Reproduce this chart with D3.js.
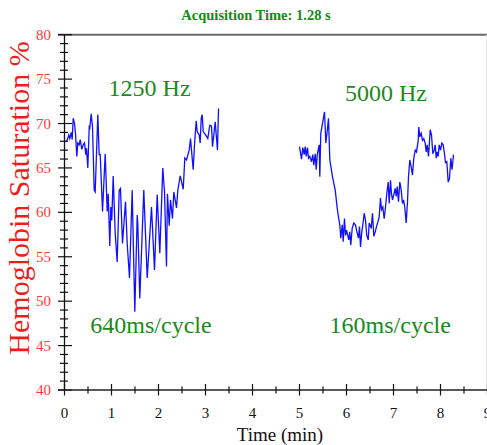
<!DOCTYPE html>
<html><head><meta charset="utf-8">
<script src="https://cdn.jsdelivr.net/npm/d3@7"></script>
<style>body{margin:0;background:#fff;} svg{display:block;}</style>
</head><body>
<script>
const titleText = "Acquisition Time: 1.28 s";
const xLabel = "Time (min)";
const yLabel = "Hemoglobin Saturation %";
const xTicks = [0,1,2,3,4,5,6,7,8,9];
const yTicks = [40,45,50,55,60,65,70,75,80];
const annotations = [
  {text:"1250 Hz", t:1.81, v:73.1},
  {text:"5000 Hz", t:6.84, v:72.5},
  {text:"640ms/cycle", t:1.84, v:46.4},
  {text:"160ms/cycle", t:6.93, v:46.4}
];
const time1250 = [0.015,0.057,0.091,0.113,0.143,0.164,0.185,0.213,0.234,0.262,0.283,0.313,0.334,0.368,0.398,0.426,0.453,0.468,0.496,0.526,0.538,0.568,0.596,0.632,0.653,0.709,0.738,0.760,0.809,0.866,0.909,0.930,0.964,0.985,1.006,1.036,1.079,1.121,1.164,1.191,1.234,1.298,1.334,1.383,1.440,1.496,1.547,1.560,1.602,1.687,1.760,1.851,1.915,1.972,2.028,2.091,2.128,2.170,2.191,2.228,2.255,2.298,2.326,2.383,2.411,2.462,2.526,2.560,2.596,2.653,2.681,2.738,2.766,2.802,2.823,2.866,2.887,2.909,2.930,2.951,3.006,3.049,3.091,3.128,3.149,3.177,3.206,3.255,3.277];
const sat1250 = [67.95,68.1,68.7,68.3,69.0,68.2,70.6,70.0,68.9,66.3,67.8,67.6,68.2,67.1,67.6,67.8,66.5,67.2,65.0,69.6,69.5,71.1,69.6,62.5,62.3,71.0,66.5,66.5,60.1,66.6,60.1,62.1,56.2,60.6,59.1,64.1,57.6,54.4,62.5,62.7,56.5,61.2,56.5,52.6,62.5,48.8,59.7,58.6,50.3,62.5,52.6,60.6,53.5,62.0,55.4,65.0,62.3,53.9,62.1,58.5,61.4,59.3,62.3,60.5,62.5,64.1,62.6,66.1,65.9,67.0,68.3,64.8,67.6,70.3,69.1,68.7,67.8,70.6,71.0,69.1,68.7,68.3,69.8,69.7,67.4,68.7,70.2,67.0,71.7];
const time5000 = [5.0,5.043,5.070,5.100,5.121,5.143,5.170,5.191,5.219,5.255,5.283,5.304,5.334,5.355,5.377,5.419,5.432,5.453,5.489,5.532,5.560,5.589,5.617,5.645,5.702,5.760,5.802,5.823,5.857,5.879,5.909,5.930,5.957,5.979,6.000,6.049,6.070,6.091,6.121,6.155,6.191,6.213,6.255,6.277,6.298,6.326,6.347,6.377,6.404,6.432,6.462,6.483,6.526,6.553,6.581,6.611,6.638,6.666,6.696,6.723,6.745,6.772,6.802,6.830,6.857,6.887,6.909,6.936,6.957,6.979,7.006,7.036,7.057,7.079,7.106,7.134,7.164,7.191,7.213,7.240,7.270,7.298,7.319,7.347,7.377,7.404,7.432,7.462,7.489,7.526,7.538,7.560,7.589,7.617,7.645,7.674,7.696,7.717,7.745,7.781,7.809,7.836,7.866,7.887,7.909,7.930,7.951,7.972,8.000,8.028,8.057,8.085,8.106,8.134,8.164,8.191,8.219,8.245,8.277];
const sat5000 = [67.4,66.0,67.3,66.5,67.4,66.3,67.3,66.1,66.3,65.7,66.5,65.3,66.6,64.8,66.5,67.6,64.0,68.9,70.0,71.3,67.8,69.1,70.6,65.9,64.0,62.5,60.5,59.7,58.6,57.1,58.6,56.7,59.3,57.4,58.0,56.9,57.8,56.3,58.2,58.8,58.6,58.0,57.1,58.4,56.1,57.8,58.6,59.9,59.1,57.4,56.9,58.8,58.2,59.9,57.3,57.8,58.4,58.9,59.5,61.6,60.3,60.6,59.3,60.6,62.1,63.4,61.0,63.6,62.1,61.4,62.0,62.7,61.8,62.9,61.2,63.4,62.5,61.0,61.4,60.6,58.8,61.2,64.0,65.9,65.1,64.2,66.1,67.0,66.8,68.1,69.6,68.5,68.9,68.1,68.3,67.8,66.8,67.6,66.3,69.3,68.7,66.6,67.0,67.6,66.1,66.8,66.3,67.6,67.0,67.8,67.6,66.6,65.6,65.7,63.4,63.8,66.1,64.8,66.5];

const W = 487, H = 445;
const x0 = 64.5, x1 = 487.5, yTop = 34.7, yBot = 390;
const svg = d3.select("body").append("svg").attr("width", W).attr("height", H);
const x = d3.scaleLinear().domain([0,9]).range([x0, x1]);
const y = d3.scaleLinear().domain([40,80]).range([yBot, yTop]);
const serif = "'Liberation Serif', 'DejaVu Serif', serif";

// title
svg.append("text").attr("x", 256).attr("y", 19.5).attr("text-anchor","middle")
  .attr("font-family", serif).attr("font-weight","bold").attr("font-size", 14.5)
  .attr("fill", "#138a13").text(titleText);

// top frame line
svg.append("line").attr("x1", 58).attr("x2", W).attr("y1", yTop).attr("y2", yTop)
  .attr("stroke", "#6a6a6a").attr("stroke-width", 2);
svg.append("line").attr("x1", 486.5).attr("x2", 486.5).attr("y1", yTop).attr("y2", yBot)
  .attr("stroke", "#e6e6e6").attr("stroke-width", 1);

// y axis ticks
const yMinor = d3.range(40, 81, 1);
svg.append("g").selectAll("line").data(yMinor).join("line")
  .attr("x1", d => d % 5 === 0 ? 58 : 60).attr("x2", d => d % 5 === 0 ? 72 : 68)
  .attr("y1", d => y(d)).attr("y2", d => y(d))
  .attr("stroke", "#111").attr("stroke-width", 1.2);
svg.append("line").attr("x1", x0).attr("x2", x0).attr("y1", yTop).attr("y2", yBot)
  .attr("stroke", "#111").attr("stroke-width", 1.3);
svg.append("g").selectAll("text").data(yTicks).join("text")
  .attr("x", 51).attr("y", d => y(d) + 5).attr("text-anchor","end")
  .attr("font-family", serif).attr("font-size", 15).attr("fill", "#ff3a3a")
  .text(d => d);

// x axis
svg.append("line").attr("x1", 58).attr("x2", W).attr("y1", yBot).attr("y2", yBot)
  .attr("stroke", "#222").attr("stroke-width", 1.3);
const xMinor = d3.range(0, 9.01, 0.5);
svg.append("g").selectAll("line").data(xMinor).join("line")
  .attr("x1", d => x(d)).attr("x2", d => x(d))
  .attr("y1", d => Number.isInteger(d) ? 384 : 386.5).attr("y2", d => Number.isInteger(d) ? 395.5 : 393.5)
  .attr("stroke", "#111").attr("stroke-width", 1.2);
svg.append("g").selectAll("text").data(xTicks).join("text")
  .attr("x", d => x(d)).attr("y", 418).attr("text-anchor","middle")
  .attr("font-family", serif).attr("font-size", 15).attr("fill", "#111")
  .text(d => d);

svg.append("text").attr("x", 280).attr("y", 441).attr("text-anchor","middle")
  .attr("font-family", serif).attr("font-size", 19).attr("fill", "#111").text(xLabel);

svg.append("text").attr("transform", "translate(29,198) rotate(-90)")
  .attr("text-anchor","middle").attr("font-family", serif).attr("font-size", 30)
  .attr("fill", "#ee1c1c").text(yLabel);

// lines
const line = d3.line().x(d => x(d[0])).y(d => y(d[1]));
svg.append("path").datum(time1250.map((t,i)=>[t, sat1250[i]]))
  .attr("d", line).attr("fill","none").attr("stroke","#1010ff").attr("stroke-width",1.3);
svg.append("path").datum(time5000.map((t,i)=>[t, sat5000[i]]))
  .attr("d", line).attr("fill","none").attr("stroke","#1010ff").attr("stroke-width",1.3);

// annotations
svg.append("g").selectAll("text").data(annotations).join("text")
  .attr("x", d => x(d.t)).attr("y", d => y(d.v)).attr("text-anchor","middle")
  .attr("font-family", serif).attr("font-size", 24).attr("fill", "#1a8a1a")
  .text(d => d.text);
</script>
</body></html>
